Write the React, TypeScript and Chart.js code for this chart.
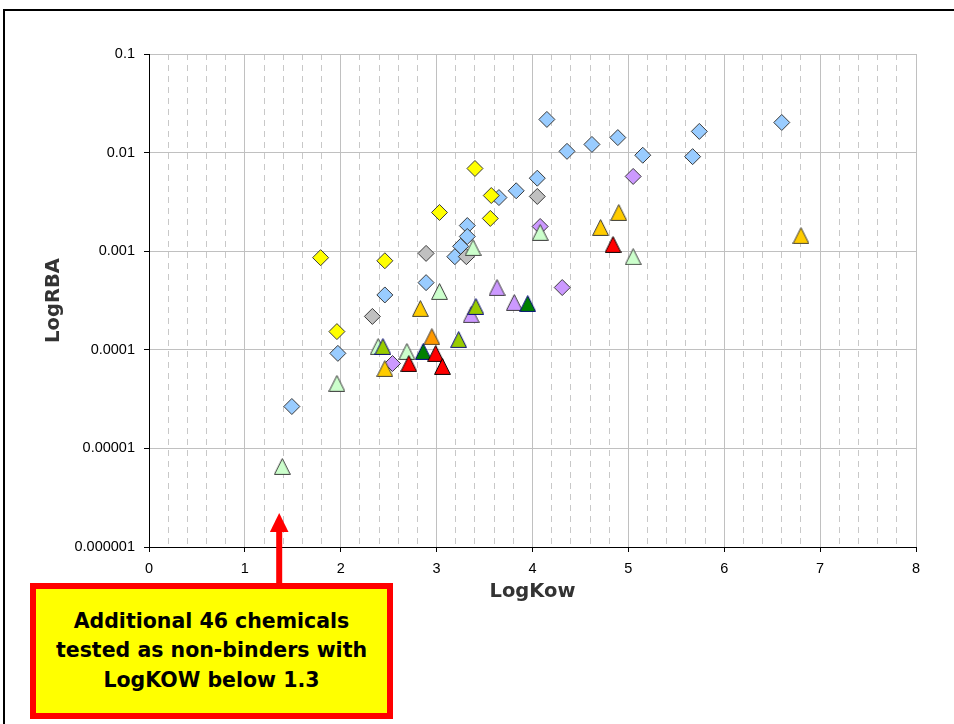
import React, { useEffect, useRef } from 'react';
import { Chart, registerables } from 'chart.js';

Chart.register(...registerables);

// Axis definitions
const X_MIN = 0;
const X_MAX = 8;
const X_STEP = 0.2;
const Y_TICK_VALUES = [0.000001, 0.00001, 0.0001, 0.001, 0.01, 0.1];
const Y_TICK_LABELS = ['0.000001', '0.00001', '0.0001', '0.001', '0.01', '0.1'];
const X_TITLE = 'LogKow';
const Y_TITLE = 'LogRBA';
const NOTE_LINES = ['Additional 46 chemicals', 'tested as non-binders with', 'LogKOW below 1.3'];

// Series: blue diamonds
const blueDiamondX = [4.15, 4.36, 4.62, 4.89, 5.15, 5.67, 5.74, 6.6, 4.05, 3.83, 3.65, 3.32, 3.32, 3.25, 3.19, 2.89, 2.46, 1.97, 1.49];
const blueDiamondY = [0.0217, 0.0103, 0.0121, 0.0142, 0.0094, 0.0091, 0.0164, 0.0202, 0.0055, 0.0041, 0.0035, 0.00182, 0.00141, 0.00112, 0.00088, 0.00048, 0.00036, 0.000092, 0.0000266];
// yellow diamonds
const yellowDiamondX = [3.4, 3.57, 3.56, 3.03, 1.79, 2.46, 1.96];
const yellowDiamondY = [0.0069, 0.00367, 0.00215, 0.00247, 0.00086, 0.0008, 0.000153];
// gray diamonds
const grayDiamondX = [4.05, 2.89, 3.31, 2.33];
const grayDiamondY = [0.00359, 0.00095, 0.00088, 0.000218];
// purple diamonds
const purpleDiamondX = [5.05, 4.08, 4.31, 2.54];
const purpleDiamondY = [0.00573, 0.00178, 0.000428, 0.0000726];
// light green triangles
const lightGreenTriX = [3.38, 4.08, 5.05, 3.03, 2.39, 2.69, 1.96, 1.39];
const lightGreenTriY = [0.00109, 0.00155, 0.00088, 0.00039, 0.000108, 0.0000962, 0.0000456, 0.00000656];
// gold triangles
const goldTriX = [4.9, 4.71, 6.8, 2.83, 2.46];
const goldTriY = [0.00247, 0.00174, 0.00144, 0.000262, 0.0000646];
// orange triangle
const orangeTriX = [2.95];
const orangeTriY = [0.000136];
// red triangles
const redTriX = [4.84, 2.71, 2.99, 3.06];
const redTriY = [0.00117, 0.0000726, 0.0000917, 0.0000678];
// yellow-green triangles
const yellowGreenTriX = [3.41, 3.23, 2.44];
const yellowGreenTriY = [0.000275, 0.000127, 0.000108];
// dark green triangles
const darkGreenTriX = [2.86, 3.95];
const darkGreenTriY = [0.0000962, 0.000294];
// purple triangles
const purpleTriX = [3.63, 3.81, 3.36];
const purpleTriY = [0.000428, 0.000302, 0.000228];

const pts = (xs: number[], ys: number[]) => xs.map((x, i) => ({ x, y: ys[i] }));
const isInt = (v: any) => typeof v === 'number' && Math.abs(v - Math.round(v)) < 1e-6;

function makeTriangle(fill: string, stroke: string) {
  const c = document.createElement('canvas');
  c.width = 17;
  c.height = 17;
  const g = c.getContext('2d')!;
  g.beginPath();
  g.moveTo(8.5, 0.6);
  g.lineTo(16.4, 16.4);
  g.lineTo(0.6, 16.4);
  g.closePath();
  g.fillStyle = fill;
  g.fill();
  g.lineWidth = 1;
  g.strokeStyle = stroke;
  g.lineJoin = 'miter';
  g.stroke();
  return c;
}

export default function App() {
  const ref = useRef<HTMLCanvasElement | null>(null);

  useEffect(() => {
    const canvas = ref.current;
    if (!canvas) return;

    const tri = (data: any[], fill: string, stroke: string) => ({
      data,
      pointStyle: makeTriangle(fill, stroke),
      pointRadius: 8,
      showLine: false,
    });
    const dia = (data: any[], fill: string) => ({
      data,
      pointStyle: 'rectRot',
      pointRadius: 8,
      backgroundColor: fill,
      borderColor: '#3a3a3a',
      borderWidth: 1,
      showLine: false,
    });

    const tickFont = { family: "'Liberation Sans', Arial, sans-serif", size: 14.5 };
    const titleFont = { family: "'DejaVu Sans', sans-serif", size: 19.5, weight: 'bold' as const };

    const chart = new Chart(canvas, {
      type: 'scatter',
      data: {
        datasets: [
          tri(pts(redTriX, redTriY), '#FF0000', '#000000'),
          tri(pts(darkGreenTriX, darkGreenTriY), '#008000', '#000080'),
          tri(pts(yellowGreenTriX, yellowGreenTriY), '#99CC00', '#000080'),
          tri(pts(orangeTriX, orangeTriY), '#FF9900', '#3a3a3a'),
          tri(pts(goldTriX, goldTriY), '#FFCC00', '#3a3a3a'),
          tri(pts(purpleTriX, purpleTriY), '#CC99FF', '#3a3a3a'),
          tri(pts(lightGreenTriX, lightGreenTriY), '#CCFFCC', '#3a3a3a'),
          dia(pts(purpleDiamondX, purpleDiamondY), '#CC99FF'),
          dia(pts(grayDiamondX, grayDiamondY), '#C0C0C0'),
          dia(pts(yellowDiamondX, yellowDiamondY), '#FFFF00'),
          dia(pts(blueDiamondX, blueDiamondY), '#99CCFF'),
        ] as any,
      },
      options: {
        animation: false,
        responsive: false,
        events: [],
        layout: { padding: { left: 0, top: 54, right: 38, bottom: 0 } },
        plugins: { legend: { display: false }, tooltip: { enabled: false } },
        scales: {
          x: {
            type: 'linear',
            min: X_MIN,
            max: X_MAX,
            afterFit: (s: any) => { s.height = 177; },
            ticks: {
              stepSize: X_STEP,
              autoSkip: false,
              maxRotation: 0,
              padding: 8,
              color: '#000',
              font: tickFont,
              callback: (v: any) => (isInt(v) ? String(Math.round(v)) : ''),
            },
            grid: {
              color: (ctx: any) => {
                const v = ctx.tick ? ctx.tick.value : null;
                if (v === 0) return '#000';
                return isInt(v) ? '#C0C0C0' : '#C8C8C8';
              },
              lineWidth: 1,
              tickLength: 5,
              tickColor: (ctx: any) => (ctx.tick && isInt(ctx.tick.value) ? '#000' : 'rgba(0,0,0,0)'),
            },
            border: {
              display: true,
              color: '#000',
              width: 1,
              dash: (ctx: any) => (ctx.tick && !isInt(ctx.tick.value) ? [6, 5] : []),
            },
            title: {
              display: true,
              text: X_TITLE,
              color: '#333',
              font: titleFont,
              padding: { top: 0, bottom: 120 },
            },
          },
          y: {
            type: 'logarithmic',
            min: Y_TICK_VALUES[0],
            max: Y_TICK_VALUES[Y_TICK_VALUES.length - 1],
            afterFit: (s: any) => { s.width = 149; },
            afterBuildTicks: (s: any) => { s.ticks = Y_TICK_VALUES.map((value) => ({ value })); },
            ticks: {
              autoSkip: false,
              padding: 9,
              color: '#000',
              font: tickFont,
              callback: (v: any) => {
                const i = Y_TICK_VALUES.findIndex((t) => Math.abs(Math.log10(t) - Math.log10(v)) < 1e-6);
                return i >= 0 ? Y_TICK_LABELS[i] : '';
              },
            },
            grid: {
              color: (ctx: any) => (ctx.tick && Math.abs(ctx.tick.value - Y_TICK_VALUES[0]) < 1e-12 ? '#000' : '#C0C0C0'),
              lineWidth: 1,
              tickLength: 5,
              tickColor: '#000',
            },
            border: { display: true, color: '#000', width: 1 },
            title: {
              display: true,
              text: Y_TITLE,
              color: '#333',
              font: titleFont,
              padding: { top: 42.5, bottom: 0 },
            },
          },
        },
      } as any,
    });
    return () => chart.destroy();
  }, []);

  return (
    <div style={{ position: 'fixed', left: 0, top: 0, width: 954, height: 724, overflow: 'hidden', background: '#fff' }}>
      <div
        style={{
          position: 'absolute',
          left: 3,
          top: 9,
          width: 2000,
          height: 2000,
          border: '2px solid #000',
        }}
      />
      <canvas ref={ref} width={954} height={724} style={{ position: 'absolute', left: 0, top: 0, width: 954, height: 724 }} />
      <svg width={954} height={724} style={{ position: 'absolute', left: 0, top: 0, pointerEvents: 'none' }}>
        <rect x={276.2} y={530} width={6} height={54} fill="#FF0000" />
        <polygon points="279.2,513 288.5,532 269.9,532" fill="#FF0000" />
      </svg>
      <div
        style={{
          position: 'absolute',
          left: 30,
          top: 583,
          width: 363,
          height: 136,
          boxSizing: 'border-box',
          border: '6px solid #FF0000',
          background: '#FFFF00',
          display: 'flex',
          flexDirection: 'column',
          alignItems: 'center',
          justifyContent: 'center',
          fontFamily: "'DejaVu Sans', sans-serif",
          fontWeight: 'bold',
          fontSize: 20.5,
          lineHeight: '29.5px',
          color: '#000',
          textAlign: 'center',
        }}
      >
        {NOTE_LINES.map((l) => (
          <div key={l} style={{ whiteSpace: 'nowrap' }}>{l}</div>
        ))}
      </div>
    </div>
  );
}
